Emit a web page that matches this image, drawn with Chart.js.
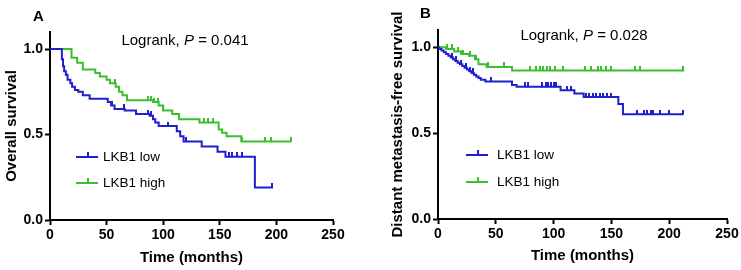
<!DOCTYPE html>
<html>
<head>
<meta charset="utf-8">
<script src="https://cdn.jsdelivr.net/npm/chart.js@4"></script>
<style>
  body { margin: 0; background: #fff; font-family: "Liberation Sans", Arial, sans-serif; }
  .box { position: absolute; top: 0; height: 270px; }
  .txt { position: absolute; white-space: nowrap; color: #000; line-height: 1; }
  .panel { font-weight: bold; font-size: 15px; }
  .logrank { font-size: 15px; transform: translate(-50%, -50%); }
  .leg { font-size: 13.5px; transform: translateY(-50%); }
  .legline { position: absolute; height: 2px; }
  .legline::after { content: ""; position: absolute; left: 50%; top: -4px; width: 2px; height: 5px; background: inherit; }
</style>
</head>
<body>
<div class="box" style="left:0;width:370px"><canvas id="chartA"></canvas></div>
<div class="box" style="left:370px;width:371px"><canvas id="chartB"></canvas></div>

<div class="txt panel" style="left:33px;top:8px">A</div>
<div class="txt panel" style="left:420px;top:5px">B</div>
<div class="txt logrank" style="left:185px;top:39px">Logrank, <i>P</i> = 0.041</div>
<div class="txt logrank" style="left:584px;top:34px">Logrank, <i>P</i> = 0.028</div>

<div class="legline" style="left:76px;top:156px;width:22px;background:#1f1fcf"></div>
<div class="txt leg" style="left:103px;top:157px">LKB1 low</div>
<div class="legline" style="left:76px;top:182px;width:22px;background:#3cbf2e"></div>
<div class="txt leg" style="left:103px;top:183px">LKB1 high</div>

<div class="legline" style="left:466px;top:154px;width:22px;background:#1f1fcf"></div>
<div class="txt leg" style="left:497px;top:155px">LKB1 low</div>
<div class="legline" style="left:466px;top:181px;width:22px;background:#3cbf2e"></div>
<div class="txt leg" style="left:497px;top:182px">LKB1 high</div>

<script>
const xTicks = [0, 50, 100, 150, 200, 250];
const yTicks = [0, 0.5, 1.0];

// A: overall survival
const aLowT = [0, 10.5, 11.5, 12.5, 14, 15.5, 18, 19.5, 22, 25, 29, 35, 51, 54, 57, 66, 76, 88, 91, 93, 96, 112, 115, 118, 134, 148, 155, 181, 197];
const aLowS = [1.0, 0.94, 0.90, 0.87, 0.85, 0.82, 0.80, 0.78, 0.76, 0.75, 0.73, 0.71, 0.69, 0.67, 0.65, 0.64, 0.62, 0.61, 0.59, 0.57, 0.55, 0.52, 0.49, 0.46, 0.43, 0.40, 0.37, 0.19, 0.19];
const aLowCens = [55, 65, 87, 89, 104, 120, 158, 161, 165, 170, 196];
const aHighT = [0, 19, 24, 29, 40, 44, 50, 53, 58, 61, 64, 68, 91, 96, 100, 108, 114, 132, 149, 152, 156, 169, 213];
const aHighS = [1.0, 0.95, 0.92, 0.88, 0.86, 0.84, 0.82, 0.80, 0.78, 0.75, 0.73, 0.70, 0.69, 0.67, 0.64, 0.62, 0.59, 0.57, 0.53, 0.51, 0.49, 0.46, 0.46];
const aHighCens = [57, 87, 89, 92, 95, 100, 136, 140, 144, 170, 190, 195, 213];

// B: distant metastasis-free survival
const bLowT = [0, 1, 3, 5, 7, 9, 11, 13, 15, 17, 19, 21, 23, 25, 27, 29, 31, 33, 35, 37, 41, 64, 68, 106, 118, 126, 156, 160, 212];
const bLowS = [1.0, 0.99, 0.98, 0.97, 0.96, 0.95, 0.94, 0.93, 0.92, 0.91, 0.90, 0.89, 0.88, 0.87, 0.86, 0.85, 0.84, 0.83, 0.82, 0.81, 0.80, 0.78, 0.77, 0.75, 0.73, 0.71, 0.67, 0.61, 0.61];
const bLowCens = [12, 16, 20, 24, 28, 30, 46, 75, 78, 90, 93, 95, 98, 100, 102, 112, 115, 128, 131, 134, 137, 140, 143, 146, 150, 172, 178, 181, 184, 186, 192, 200, 212];
const bHighT = [0, 7, 14, 20, 27, 32, 35, 42, 64, 213];
const bHighS = [1.0, 0.99, 0.975, 0.96, 0.95, 0.93, 0.90, 0.885, 0.865, 0.865];
const bHighCens = [8, 12, 17, 22, 28, 33, 43, 57, 80, 85, 88, 91, 94, 97, 101, 108, 127, 132, 138, 141, 145, 150, 170, 175, 212];

const blue = '#1f1fcf';
const green = '#3cbf2e';

function pts(ts, ss) {
  return ts.map((t, i) => ({ x: t, y: ss[i] }));
}
function survAt(ts, ss, t) {
  let s = ss[0];
  for (let i = 0; i < ts.length; i++) {
    if (ts[i] <= t) s = ss[i];
  }
  return s;
}
function censPts(ts, ss, cens) {
  return cens.map(t => ({ x: t, y: survAt(ts, ss, t) }));
}

// censor tick: small mark that sticks up from the curve
function tickImage(color) {
  const c = document.createElement('canvas');
  c.width = 2;
  c.height = 9;
  const ctx = c.getContext('2d');
  ctx.fillStyle = color;
  ctx.fillRect(0, 0, 2, 5);
  return c;
}

function curve(data, color) {
  return { data: data, borderColor: color, borderWidth: 2, showLine: true, stepped: true, pointRadius: 0, fill: false };
}
function marks(data, color) {
  return { data: data, borderColor: color, showLine: false, pointStyle: tickImage(color), pointRadius: 3, pointHoverRadius: 3 };
}

function makeChart(id, datasets, yTitle, yWidth, padding, xHeight) {
  const tickFont = { family: 'Liberation Sans', size: 14, weight: 'bold' };
  const titleFont = { family: 'Liberation Sans', size: 15, weight: 'bold' };
  new Chart(document.getElementById(id).getContext('2d'), {
    type: 'scatter',
    data: { datasets: datasets },
    options: {
      responsive: true,
      maintainAspectRatio: false,
      animation: false,
      layout: { padding: padding },
      plugins: { legend: { display: false }, tooltip: { enabled: false } },
      scales: {
        x: {
          type: 'linear', min: 0, max: 250,
          afterBuildTicks: s => { s.ticks = xTicks.map(v => ({ value: v })); },
          afterFit: s => { s.height = xHeight; },
          ticks: { color: '#000', font: tickFont, padding: 2 },
          grid: { display: true, drawOnChartArea: false, drawTicks: true, tickLength: 5, tickWidth: 2, tickColor: '#000' },
          border: { display: true, color: '#000', width: 2 },
          title: { display: true, text: 'Time (months)', color: '#000', font: titleFont, padding: { top: 2, bottom: 3 } }
        },
        y: {
          type: 'linear', min: 0, max: 1.1,
          afterBuildTicks: s => { s.ticks = yTicks.map(v => ({ value: v })); },
          afterFit: s => { s.width = yWidth; },
          ticks: { color: '#000', font: tickFont, padding: 2, callback: v => v.toFixed(1) },
          grid: { display: true, drawOnChartArea: false, drawTicks: true, tickLength: 5, tickWidth: 2, tickColor: '#000' },
          border: { display: true, color: '#000', width: 2 },
          title: { display: true, text: yTitle, color: '#000', font: titleFont, padding: { top: 3, bottom: 2 } }
        }
      }
    }
  });
}

makeChart('chartA', [
  curve(pts(aLowT, aLowS), blue),
  curve(pts(aHighT, aHighS), green),
  marks(censPts(aLowT, aLowS, aLowCens), blue),
  marks(censPts(aHighT, aHighS, aHighCens), green)
], 'Overall survival', 50, { top: 32, right: 37, left: 0, bottom: 0 }, 50);

makeChart('chartB', [
  curve(pts(bLowT, bLowS), blue),
  curve(pts(bHighT, bHighS), green),
  marks(censPts(bLowT, bLowS, bLowCens), blue),
  marks(censPts(bHighT, bHighS, bHighCens), green)
], 'Distant metastasis-free survival', 52, { top: 30, right: 14, left: 16, bottom: 2 }, 49);
</script>
</body>
</html>
